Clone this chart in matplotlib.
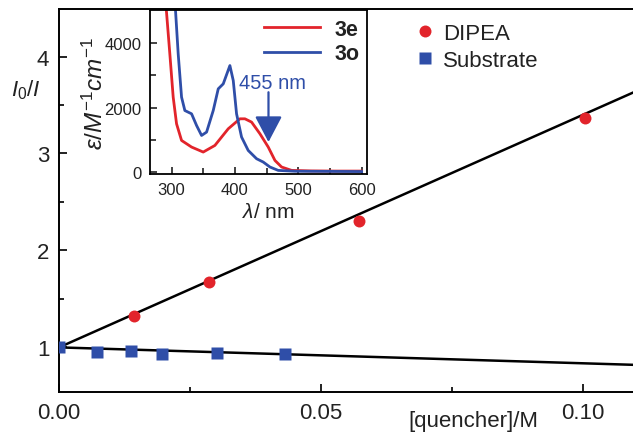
import numpy as np
import matplotlib
matplotlib.use('Agg')
import matplotlib.pyplot as plt

plt.rcParams['font.family'] = ['Liberation Sans', 'DejaVu Sans']
plt.rcParams['mathtext.fontset'] = 'custom'
plt.rcParams['mathtext.rm'] = 'Liberation Sans'
plt.rcParams['mathtext.it'] = 'Liberation Sans:italic'
plt.rcParams['mathtext.bf'] = 'Liberation Sans:bold'

# Stern-Volmer data
conc_dipea = [0.0143, 0.0286, 0.0572, 0.1003]
ratio_dipea = [1.326, 1.676, 2.305, 3.37]
conc_sub = [0.0, 0.0072, 0.0137, 0.0197, 0.0302, 0.0432]
ratio_sub = [1.0, 0.95, 0.96, 0.935, 0.94, 0.935]

# fitted lines (slope, intercept)
fit_dipea = (24.0, 1.0)
fit_sub = (-1.64, 1.0)

# absorption spectra (inset)
wl_3e = [291.5, 297.3, 302.6, 307.9, 315.8, 331.6, 350, 368.4, 389.5, 407.9, 415.8,
         426.3, 439.5, 452.6, 463.2, 473.7, 489.5, 520, 560, 600]
eps_3e = [5100, 3669, 2328, 1501, 985, 780, 625, 830, 1347, 1656, 1656,
          1554, 1192, 780, 365, 161, 56, 40, 35, 35]
wl_3o = [306, 310.5, 315.8, 321, 331.6, 339.5, 347.4, 355.3, 365.8, 373.7, 381.6,
         392.1, 397.4, 402.6, 410.5, 421, 434.2, 444.7, 455.3, 468.4, 494.7, 550, 600]
eps_3o = [5100, 3669, 2328, 1913, 1811, 1449, 1140, 1244, 1913, 2585, 2740,
          3307, 2842, 1811, 1090, 675, 418, 315, 161, 56, 30, 25, 20]

red = '#e2242b'
blue = '#2f4ea8'
W, H = 633, 435

fig = plt.figure(figsize=(6.33, 4.35), dpi=100)

# main axes
ax = fig.add_axes([59 / W, 1 - 393 / H, 1 - 59 / W, (393 - 10) / H])
xs = np.array([0.0, 0.1095])
ax.plot(xs, fit_dipea[0] * xs + fit_dipea[1], color='black', lw=1.8, zorder=2)
ax.plot(xs, fit_sub[0] * xs + fit_sub[1], color='black', lw=1.8, zorder=2)
ax.plot(conc_dipea, ratio_dipea, 'o', color=red, ms=8.6, mec='none', zorder=3, label='DIPEA')
ax.plot(conc_sub, ratio_sub, 's', color=blue, ms=9.2, mec='none', zorder=3, label='Substrate')

ax.set_xlim(0, 0.1095)
ax.set_ylim(0.54, 4.49)
ax.set_xticks([0.0, 0.05, 0.10])
ax.set_xticklabels(['0.00', '0.05', '0.10'])
ax.set_xticks([0.025, 0.075], minor=True)
ax.set_yticks([1, 2, 3, 4])
ax.set_yticks([1.5, 2.5, 3.5], minor=True)
ax.tick_params(which='both', direction='in', width=1.4, labelsize=16, colors='#222222')
ax.tick_params(which='major', length=6, pad=7)
ax.tick_params(which='minor', length=3.6)
ax.spines['right'].set_visible(False)
for s in ['left', 'top', 'bottom']:
    ax.spines[s].set_linewidth(1.4)

leg = ax.legend(loc='upper left', bbox_to_anchor=(416 / W, 1 - 24 / H),
                bbox_transform=fig.transFigure, frameon=False, fontsize=16,
                handlelength=0.8, handletextpad=0.4, borderpad=0, borderaxespad=0,
                labelspacing=0.25)
for t in leg.get_texts():
    t.set_color('#222222')

fig.text(26 / W, 1 - 90 / H, r'$I_0/I$', fontsize=16, ha='center', va='center', color='#222222')
fig.text(473 / W, 1 - 421.7 / H, '[quencher]/M', fontsize=16, ha='center', va='center', color='#222222')

# inset axes
ai = fig.add_axes([150 / W, 1 - 174.5 / H, (366.7 - 150) / W, (174.5 - 11) / H])
ai.set_facecolor('white')
ai.plot(wl_3e, eps_3e, color=red, lw=2.0, label='3e')
ai.plot(wl_3o, eps_3o, color=blue, lw=2.0, label='3o')
ai.set_xlim(266, 608)
ai.set_ylim(-40, 5030)
ai.set_xticks([300, 400, 500, 600])
ai.set_xticks([350, 450, 550], minor=True)
ai.set_yticks([0, 2000, 4000])
ai.set_yticks([1000, 3000], minor=True)
ai.tick_params(which='both', direction='in', width=1.2, labelsize=12, colors='#222222', pad=6)
ai.tick_params(which='major', length=5)
ai.tick_params(which='minor', length=4.5)
for s in ai.spines.values():
    s.set_linewidth(1.3)

ai.annotate('', xy=(453, 935), xytext=(453, 2480),
            arrowprops=dict(arrowstyle='-|>,head_length=0.8,head_width=0.42',
                            mutation_scale=20, color=blue, lw=1.6, shrinkA=0, shrinkB=0))
ai.text(460, 2790, '455 nm', color=blue, fontsize=14.5, ha='center', va='center')

li = ai.legend(loc='upper left', bbox_to_anchor=(264 / W, 1 - 20 / H),
               bbox_transform=fig.transFigure, frameon=False,
               prop={'weight': 'bold', 'size': 15.5},
               handlelength=2.6, handletextpad=0.7, borderpad=0, borderaxespad=0,
               labelspacing=0.15)
for t in li.get_texts():
    t.set_color('#222222')

fig.text(95 / W, 1 - 93 / H, r'$\varepsilon/M^{-1}cm^{-1}$', fontsize=17.5, rotation=90,
         ha='center', va='center', color='#222222')
fig.text(268 / W, 1 - 213 / H, r'$\lambda$/ nm', fontsize=15, ha='center', va='center', color='#222222')

fig.savefig('out.png', dpi=100)
